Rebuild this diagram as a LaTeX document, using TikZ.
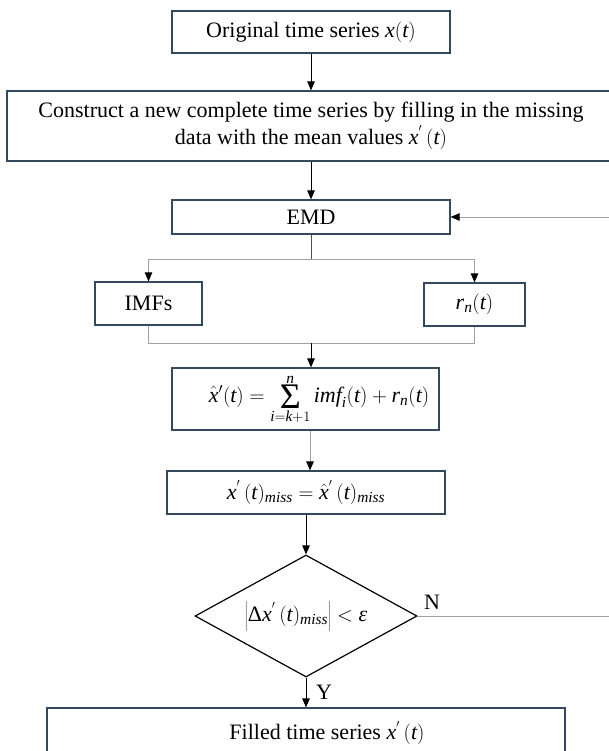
\documentclass[tikz,border=0pt]{standalone}
\usepackage{fontspec}
\setmainfont{Liberation Serif}
\usetikzlibrary{arrows.meta,shapes.geometric}
\definecolor{boxc}{HTML}{34495E}
\definecolor{grayline}{HTML}{A0A0A0}
\definecolor{darkline}{HTML}{505050}
\newcommand{\myit}[1]{\mathit{#1}}
\newcommand{\bigsig}{\mathop{\vcenter{\hbox{\fontsize{36}{36}\selectfont Σ}}}\limits}
\begin{document}
\begin{tikzpicture}[x=1pt,y=-1pt,
  font=\fontsize{22}{27}\selectfont,
  box/.style={draw=boxc, line width=1.2pt, inner sep=0pt, anchor=center},
  tipk/.style={-{Triangle[length=9pt,width=7.5pt,color=black]}},
  arrk/.style={tipk, draw=black, line width=0.9pt},
  arrg/.style={tipk, draw=grayline, line width=0.9pt},
  lng/.style={draw=grayline, line width=0.9pt},
  lnd/.style={draw=darkline, line width=0.9pt}]
\useasboundingbox (0,0) rectangle (609,751);
\clip (0,0) rectangle (609,751);
% nodes
\node[box, minimum width=278pt, minimum height=42pt] (orig) at (311,32) {Original time series $\myit{x}(\myit{t})$};
\node[box, minimum width=608pt, minimum height=70pt, align=center] (cons) at (311,126)
  {Construct a new complete time series by filling in the missing\\ data with the mean values $\myit{x}^{'}\,(\myit{t})$};
\node[box, minimum width=278pt, minimum height=34pt] (emd) at (311,217) {EMD};
\node[box, minimum width=107pt, minimum height=43pt] (imf) at (148.5,303.5) {IMFs};
\node[box, minimum width=101pt, minimum height=43pt] (rn) at (474.5,304.5) {$\myit{r}_{\myit{n}}(\myit{t})$};
\node[box, minimum width=267pt, minimum height=62pt] (sumbox) at (305.5,399) {};
\node[inner sep=0pt] (sumtxt) at (319,399) {$\displaystyle \hat{\myit{x}}'(\myit{t}) = \bigsig_{\myit{i}=\myit{k}+1}^{\myit{n}} \myit{imf}_{\myit{i}}(\myit{t}) + \myit{r}_{\myit{n}}(\myit{t})$};
\node[box, minimum width=278pt, minimum height=43pt] (miss) at (306,492.5) {$\myit{x}^{'}\,(\myit{t})_{\myit{miss}} = \hat{\myit{x}}^{'}\,(\myit{t})_{\myit{miss}}$};
\node[diamond, draw=black, line width=1.2pt, inner sep=0pt, aspect=1.82,
  minimum width=222pt, minimum height=122pt] (dec) at (306,616)
  {$\left|\mbox{Δ}\myit{x}^{'}\,(\myit{t})_{\myit{miss}}\right| < \mbox{\itshape ε}$};
\node[box, minimum width=518pt, minimum height=60pt] (fill) at (306,738) {};
\node[inner sep=0pt] (filltxt) at (327,733) {Filled time series $\myit{x}^{'}\,(\myit{t})$};
\node[inner sep=0pt] (nlab) at (432,602) {N};
\node[inner sep=0pt] (ylab) at (324,692) {Y};
% coordinates
\coordinate (split) at (311,259);
\coordinate (merge) at (311,343);
\coordinate (c310) at (310,0);
\coordinate (fbA) at (640,616);
\coordinate (fbB) at (640,217);
% connectors
\draw[arrk] (orig.south) -- (cons.north);
\draw[arrk] (cons.south) -- (emd.north);
\draw[lnd] (emd.south) -- (split);
\draw[lng] (imf.north |- split) -- (rn.north |- split);
\draw[arrg] (imf.north |- split) -- (imf.north);
\draw[arrg] (rn.north |- split) -- (rn.north);
\draw[lng] (imf.south) -- (imf.south |- merge) -- (rn.south |- merge) -- (rn.south);
\draw[arrk] (merge) -- (sumbox.north -| merge);
\draw[arrg] (sumbox.south -| c310) -- (miss.north -| c310);
\draw[arrk] (miss.south -| dec.north) -- (dec.north);
\draw[arrk] (dec.south) -- (fill.north);
\draw[arrg] (dec.east) -- (fbA) -- (fbB) -- (emd.east);
\end{tikzpicture}
\end{document}
